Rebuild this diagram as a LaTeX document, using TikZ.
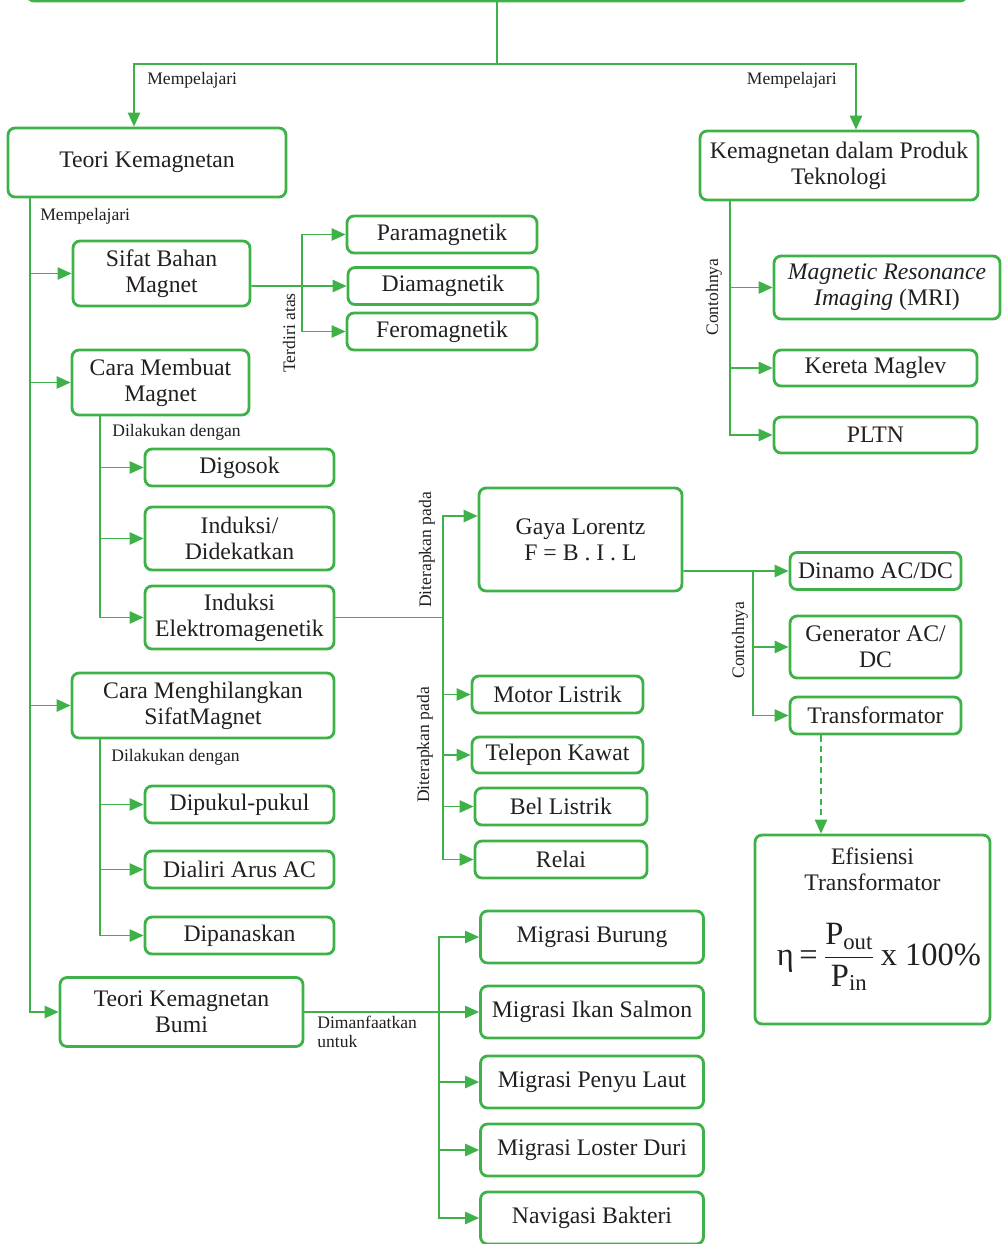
\documentclass[tikz,border=0pt]{standalone}
\usepackage{amsmath}
\usepackage{fontspec}
\setmainfont{Liberation Serif}
\usepackage{tikz}
\usetikzlibrary{arrows.meta, positioning}
\definecolor{mapGreen}{RGB}{62,178,73}
\definecolor{mapText}{HTML}{231F20}

\begin{document}
\begin{tikzpicture}[x=0.02cm, y=-0.02cm, >={Triangle[length=8pt, width=7pt]},
    box/.style={draw=mapGreen, line width=1.6pt, rounded corners=4pt, align=center, text=mapText, inner sep=2pt, font=\fontsize{13.5}{14.7}\selectfont},
    note/.style={text=mapText, inner sep=0pt, font=\fontsize{10}{10.8}\selectfont},
    link/.style={draw=mapGreen, line width=1.1pt},
    arr/.style={link, ->}]
    \useasboundingbox (0,0) rectangle (1002,1244);
    \clip (0,0) rectangle (1002,1244);

    % top level
    \node[box, minimum width=18.8cm, minimum height=1.2cm] (root) at (497,-29) {};
    \node[box, minimum width=5.56cm, minimum height=1.38cm] (teori) at (147,162.5) {Teori Kemagnetan};
    \node[box, minimum width=5.56cm, minimum height=1.38cm] (produk) at (839,165.5) {Kemagnetan dalam Produk\\Teknologi};

    \coordinate (jTop) at (497,64);
    \draw[link] (root.south) -- (jTop);
    \draw[arr] (jTop) -| ([xshift=-0.26cm]teori.north);
    \draw[arr] (jTop) -| ([xshift=0.34cm]produk.north);
    \node[note, anchor=west] (lblTeori) at (147,80) {Mempelajari};
    \node[note, anchor=east] (lblProduk) at (837,80) {Mempelajari};

    % produk teknologi
    \node[box, minimum width=4.52cm, minimum height=1.26cm] (mri) at (887,287.5) {\textit{Magnetic Resonance}\\\textit{Imaging} (MRI)};
    \node[box, minimum width=4.06cm, minimum height=0.72cm] (maglev) at (875.5,368) {Kereta Maglev};
    \node[box, minimum width=4.06cm, minimum height=0.72cm] (pltn) at (875.5,435) {PLTN};
    \coordinate (tProduk) at ([xshift=0.62cm]produk.south west);
    \foreach \n in {mri, maglev, pltn}
        \draw[arr] (tProduk) |- (\n.west);
    \node[note, rotate=90] (lblContoh) at (714,297) {Contohnya};

    % teori kemagnetan
    \node[note, anchor=west] (lblPelajari) at (40,216) {Mempelajari};
    \node[box, minimum width=3.54cm, minimum height=1.3cm] (sifat) at (161.5,273.5) {Sifat Bahan\\Magnet};
    \node[box, minimum width=3.54cm, minimum height=1.3cm] (membuat) at (160.5,382.5) {Cara Membuat\\Magnet};
    \node[box, minimum width=5.24cm, minimum height=1.3cm] (hilang) at (203,705.5) {Cara Menghilangkan\\SifatMagnet};
    \node[box, minimum width=4.86cm, minimum height=1.38cm] (bumi) at (181.5,1012) {Teori Kemagnetan\\Bumi};
    \coordinate (tTeori) at ([xshift=0.46cm]teori.south west);
    \foreach \n in {sifat, membuat, hilang, bumi}
        \draw[arr] (tTeori) |- (\n.west);

    % sifat bahan
    \node[box, minimum width=3.8cm, minimum height=0.74cm] (para) at (442,234.5) {Paramagnetik};
    \node[box, minimum width=3.8cm, minimum height=0.74cm] (dia) at (443,286) {Diamagnetik};
    \node[box, minimum width=3.8cm, minimum height=0.74cm] (fero) at (442,331.5) {Feromagnetik};
    \coordinate (jSifat) at (302,286);
    \draw[link] ([yshift=-0.25cm]sifat.east) -- (jSifat);
    \foreach \n in {para, dia, fero}
        \draw[arr] (jSifat) |- (\n.west);
    \node[note, rotate=90] (lblTerdiri) at (289,333) {Terdiri atas};

    % cara membuat
    \node[note, anchor=west] (lblBuat) at (112,432) {Dilakukan dengan};
    \node[box, minimum width=3.78cm, minimum height=0.74cm] (gosok) at (239.5,467.5) {Digosok};
    \node[box, minimum width=3.78cm, minimum height=1.26cm] (induksi) at (239.5,538.5) {Induksi/\\Didekatkan};
    \node[box, minimum width=3.78cm, minimum height=1.26cm] (elektro) at (239.5,617.5) {Induksi\\Elektromagenetik};
    \coordinate (tBuat) at ([xshift=0.58cm]membuat.south west);
    \foreach \n in {gosok, induksi, elektro}
        \draw[arr] (tBuat) |- (\n.west);

    % cara menghilangkan
    \node[note, anchor=west] (lblHilang) at (111,757) {Dilakukan dengan};
    \node[box, minimum width=3.78cm, minimum height=0.74cm] (pukul) at (239.5,804.5) {Dipukul-pukul};
    \node[box, minimum width=3.78cm, minimum height=0.74cm] (aliri) at (239.5,869.5) {Dialiri Arus AC};
    \node[box, minimum width=3.78cm, minimum height=0.74cm] (panas) at (239.5,935.5) {Dipanaskan};
    \coordinate (tHilang) at ([xshift=0.58cm]hilang.south west);
    \foreach \n in {pukul, aliri, panas}
        \draw[arr] (tHilang) |- (\n.west);

    % induksi elektromagnetik
    \node[box, minimum width=4.06cm, minimum height=2.06cm] (lorentz) at (580.5,539.5) {Gaya Lorentz\\F = B . I . L};
    \node[box, minimum width=3.42cm, minimum height=0.74cm] (motor) at (557.5,694.5) {Motor Listrik};
    \node[box, minimum width=3.42cm, minimum height=0.72cm] (telepon) at (557.5,755) {Telepon Kawat};
    \node[box, minimum width=3.44cm, minimum height=0.74cm] (bel) at (561,806.5) {Bel Listrik};
    \node[box, minimum width=3.44cm, minimum height=0.74cm] (relai) at (561,859.5) {Relai};
    \coordinate (jElektro) at (443,617.5);
    \draw[link] (elektro.east) -- (jElektro);
    \draw[arr] (jElektro) |- ([yshift=0.47cm]lorentz.west);
    \foreach \n in {motor, telepon, bel, relai}
        \draw[arr] (jElektro) |- (\n.west);
    \node[note, rotate=90] (lblTerap) at (427,550) {Diterapkan pada};
    \node[note, rotate=90] (lblTerapB) at (425,745) {Diterapkan pada};

    % gaya lorentz
    \node[box, minimum width=3.42cm, minimum height=0.74cm] (dinamo) at (875.5,571) {Dinamo AC/DC};
    \node[box, minimum width=3.42cm, minimum height=1.24cm] (generator) at (875.5,647) {Generator AC/\\DC};
    \node[box, minimum width=3.42cm, minimum height=0.74cm] (trafo) at (875.5,715.5) {Transformator};
    \coordinate (jLorentz) at (753,571);
    \draw[link] ([yshift=-0.63cm]lorentz.east) -- (jLorentz);
    \foreach \n in {dinamo, generator, trafo}
        \draw[arr] (jLorentz) |- (\n.west);
    \node[note, rotate=90] (lblContohB) at (740,640) {Contohnya};

    % efisiensi
    \node[box, minimum width=4.7cm, minimum height=3.78cm] (efisiensi) at (872.5,929.5) {};
    \node[box, draw=none, anchor=north] (efJudul) at (872.5,843) {Efisiensi\\Transformator};
    \node[text=mapText, font=\fontsize{18.5}{21}\selectfont, inner sep=0pt] (efRumus) at (879,957)
        {η\,=\,$\dfrac{\text{P}_{\text{out}}}{\text{P}_{\text{in}}}$\,x 100\%};
    \coordinate (dTop) at ([xshift=-1.09cm]trafo.south);
    \draw[arr, dash pattern=on 3.5pt off 2.5pt] (dTop) -- (dTop |- efisiensi.north);

    % kemagnetan bumi
    \node[box, minimum width=4.46cm, minimum height=1.04cm] (burung) at (592,937) {Migrasi Burung};
    \node[box, minimum width=4.46cm, minimum height=1.04cm] (salmon) at (592,1012) {Migrasi Ikan Salmon};
    \node[box, minimum width=4.46cm, minimum height=1.04cm] (penyu) at (592,1082) {Migrasi Penyu Laut};
    \node[box, minimum width=4.46cm, minimum height=1.04cm] (loster) at (592,1150) {Migrasi Loster Duri};
    \node[box, minimum width=4.46cm, minimum height=1.04cm] (bakteri) at (592,1218) {Navigasi Bakteri};
    \coordinate (jBumi) at (439,1012);
    \draw[link] (bumi.east) -- (jBumi);
    \foreach \n in {burung, salmon, penyu, loster, bakteri}
        \draw[arr] (jBumi) |- (\n.west);
    \node[note, anchor=north west, align=left] (lblManfaat) at (317,1016) {Dimanfaatkan\\untuk};
\end{tikzpicture}
\end{document}
